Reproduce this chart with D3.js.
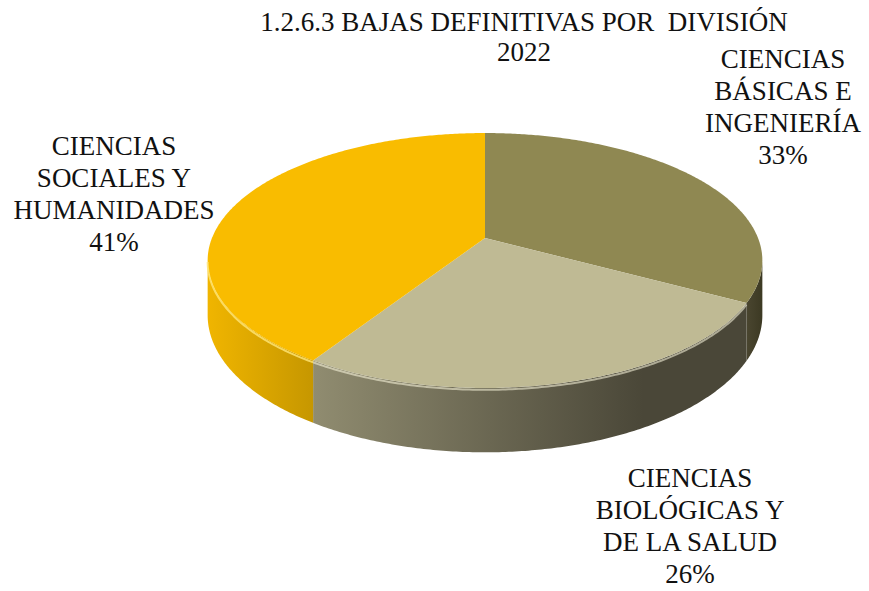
<!DOCTYPE html>
<html><head><meta charset="utf-8">
<script src="https://cdn.jsdelivr.net/npm/d3@7"></script>
<style>html,body{margin:0;padding:0;background:#fff;}svg{display:block;}</style>
</head><body>
<svg id="chart" width="869" height="591"></svg>
<script>
const titleLines = ["1.2.6.3 BAJAS DEFINITIVAS POR  DIVISIÓN", "2022"];
const categories = ["CIENCIAS BÁSICAS E INGENIERÍA", "CIENCIAS BIOLÓGICAS Y DE LA SALUD", "CIENCIAS SOCIALES Y HUMANIDADES"];
const values = [33, 26, 41];
const labelLines = [["CIENCIAS", "BÁSICAS E", "INGENIERÍA"], ["CIENCIAS", "BIOLÓGICAS Y", "DE LA SALUD"], ["CIENCIAS", "SOCIALES Y", "HUMANIDADES"]];
const topColors = ["#8F8852", "#BFBA94", "#F9BC00"];
const sideLeft = ["#4A4630", "#908C70", "#F0B500"];
const sideRight = ["#3C3923", "#4A4738", "#C69700"];
const labelPos = [[783, 68], [690, 487], [114, 155]];

const svg = d3.select("#chart");
const font = "'Liberation Serif', 'Times New Roman', serif";

// perspective projection of the pie
const cx = 485, cy = 238, R = 273, A = 123.5, K = 0.1765, H = 53;
function proj(theta, depth) {
  const u = Math.sin(theta), v = -Math.cos(theta);
  const s = 1 / (1 - K * v);
  return [cx + R * u * s, cy + (A * v + depth) * s];
}
const visA = Math.acos(-K), visB = 2 * Math.PI - Math.acos(-K);

const pie = d3.pie().sort(null).value(d => d)(values);
const defs = svg.append("defs");
const line = d3.line();

function arcPts(a0, a1, depth) {
  const n = Math.max(2, Math.ceil((a1 - a0) / 0.01));
  return d3.range(n + 1).map(i => proj(a0 + (a1 - a0) * i / n, depth));
}

// sides
pie.forEach((p, i) => {
  const a0 = Math.max(p.startAngle, visA), a1 = Math.min(p.endAngle, visB);
  if (a1 <= a0) return;
  const top = arcPts(a0, a1, 0);
  const bot = arcPts(a0, a1, H).reverse();
  const xs = top.map(d => d[0]);
  const g = defs.append("linearGradient").attr("id", "side" + i)
    .attr("gradientUnits", "userSpaceOnUse")
    .attr("x1", d3.min(xs)).attr("x2", i === 1 ? d3.min(xs) + 330 : d3.max(xs)).attr("y1", 0).attr("y2", 0);
  g.append("stop").attr("offset", 0).attr("stop-color", sideLeft[i]);
  g.append("stop").attr("offset", 1).attr("stop-color", sideRight[i]);
  svg.append("path").attr("d", line(top.concat(bot)) + "Z").attr("fill", `url(#side${i})`);
});

// top faces
pie.forEach((p, i) => {
  const pts = [proj(0, 0).map((d, j) => j === 0 ? cx : cy)].concat(arcPts(p.startAngle, p.endAngle, 0));
  svg.append("path").attr("d", line(pts) + "Z").attr("fill", topColors[i]);
});

// rim highlight
const hl = ["rgba(255,255,255,0.0)", "rgba(255,252,225,0.55)", "rgba(255,230,120,0.8)"];
pie.forEach((p, i) => {
  const a0 = Math.max(p.startAngle, visA), a1 = Math.min(p.endAngle, visB);
  if (a1 <= a0) return;
  const pts = arcPts(a0, a1, 1.5);
  svg.append("path").attr("d", line(pts)).attr("fill", "none")
    .attr("stroke", hl[i]).attr("stroke-width", 2);
});

// title
svg.append("g").selectAll("text").data(titleLines).join("text")
  .attr("x", 524).attr("y", (d, i) => 31 + i * 30)
  .attr("text-anchor", "middle").attr("font-family", font).attr("font-size", 27)
  .attr("fill", "#111").attr("xml:space", "preserve").style("white-space", "pre")
  .text(d => d);

// labels
const total = d3.sum(values);
labelLines.forEach((lines, i) => {
  const all = lines.concat([Math.round(values[i] / total * 100) + "%"]);
  svg.append("g").selectAll("text").data(all).join("text")
    .attr("x", labelPos[i][0]).attr("y", (d, j) => labelPos[i][1] + j * 32)
    .attr("text-anchor", "middle").attr("font-family", font).attr("font-size", 27)
    .attr("fill", "#111").text(d => d);
});
</script>
</body></html>
